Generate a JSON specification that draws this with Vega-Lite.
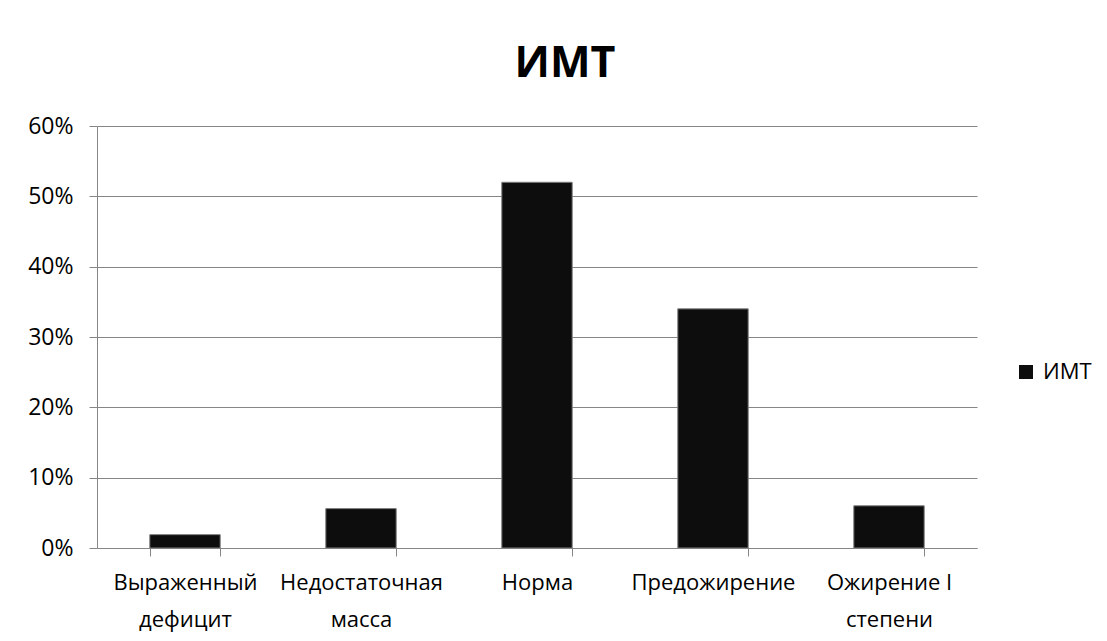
{
  "$schema": "https://vega.github.io/schema/vega-lite/v6.json",
  "autosize": "none",
  "width": 880,
  "height": 422,
  "padding": {"left": 97, "top": 126, "right": 130, "bottom": 93},
  "background": "white",
  "title": {
    "text": "ИМТ",
    "font": "Open Sans",
    "fontSize": 43,
    "fontWeight": "bold",
    "color": "#000000",
    "anchor": "middle",
    "frame": "group",
    "baseline": "alphabetic",
    "offset": -5,
    "dx": 28
  },
  "data": {
    "values": [
      {"category": "Выраженный дефицит", "value": 0.019, "series": "ИМТ"},
      {"category": "Недостаточная масса", "value": 0.056, "series": "ИМТ"},
      {"category": "Норма", "value": 0.52, "series": "ИМТ"},
      {"category": "Предожирение", "value": 0.34, "series": "ИМТ"},
      {"category": "Ожирение I степени", "value": 0.06, "series": "ИМТ"}
    ]
  },
  "mark": {"type": "bar", "stroke": "#7f7f7f", "strokeWidth": 1},
  "encoding": {
    "x": {
      "field": "category",
      "type": "nominal",
      "sort": null,
      "scale": {"paddingInner": 0.6, "paddingOuter": 0.3},
      "axis": {
        "title": null,
        "labelAngle": 0,
        "labelFont": "Open Sans",
        "labelFontSize": 22,
        "labelColor": "#000000",
        "labelLineHeight": 37,
        "labelPadding": 16,
        "labelExpr": "!isValid(datum.value) ? '' : (datum.value == 'Ожирение I степени' ? ['Ожирение I', 'степени'] : split(datum.value, ' '))",
        "tickBand": "extent",
        "tickSize": 8,
        "tickColor": "#868686",
        "domainColor": "#868686",
        "domainWidth": 1,
        "labelLimit": 300
      }
    },
    "y": {
      "field": "value",
      "type": "quantitative",
      "scale": {"domain": [0, 0.6], "nice": false},
      "axis": {
        "title": null,
        "format": ".0%",
        "values": [0, 0.1, 0.2, 0.3, 0.4, 0.5, 0.6],
        "labelFont": "Open Sans",
        "labelFontSize": 23,
        "labelColor": "#000000",
        "labelPadding": 16,
        "tickSize": 8,
        "tickColor": "#868686",
        "domainColor": "#868686",
        "gridColor": "#868686",
        "grid": true
      }
    },
    "fill": {
      "field": "series",
      "type": "nominal",
      "scale": {"range": ["#0d0d0d"]},
      "legend": {
        "title": null,
        "orient": "none",
        "legendX": 918,
        "legendY": 235,
        "symbolType": "square",
        "symbolSize": 196,
        "symbolStrokeWidth": 0,
        "labelFont": "Open Sans",
        "labelFontSize": 22,
        "labelColor": "#000000",
        "labelOffset": 6,
        "padding": 0
      }
    }
  },
  "config": {
    "view": {"stroke": null},
    "axis": {"domain": true}
  }
}
